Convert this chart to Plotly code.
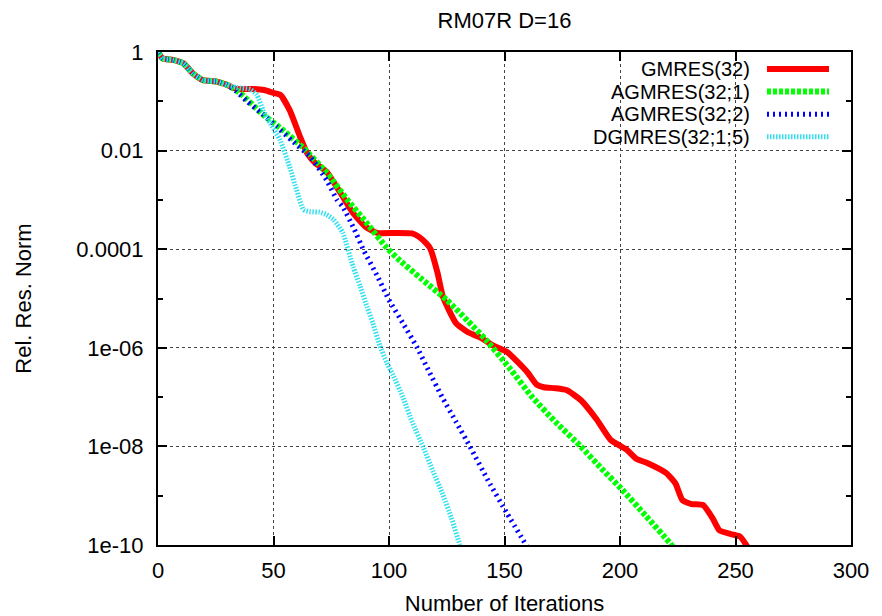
import plotly.graph_objects as go

# convergence histories (iterations, log10 of relative residual)
gmres_it = [0, 2, 6.5, 11, 15, 19.5, 25.5, 30, 34, 41, 46, 50, 53, 57, 61.5, 64.5, 68, 73, 79,
            84.5, 90, 95, 103, 110, 113, 116.5, 118, 121, 123.4, 129, 134, 139, 145, 151, 156,
            160, 164, 167, 172, 177, 183, 190, 196, 203, 207, 212, 220, 224, 227, 231, 236, 240,
            243, 248, 252, 256]
gmres_lg = [0, -0.13, -0.16, -0.23, -0.43, -0.57, -0.6, -0.67, -0.75, -0.75, -0.77, -0.83, -0.87,
            -1.18, -1.72, -2.05, -2.25, -2.43, -2.86, -3.27, -3.55, -3.67, -3.67, -3.68, -3.75,
            -3.9, -4.0, -4.48, -4.97, -5.5, -5.68, -5.78, -5.95, -6.08, -6.3, -6.5, -6.75, -6.8,
            -6.82, -6.86, -7.06, -7.46, -7.87, -8.07, -8.25, -8.34, -8.54, -8.75, -9.09, -9.17,
            -9.19, -9.45, -9.7, -9.78, -9.83, -10.1]

agm1_it = [0, 2, 6.5, 11, 15, 19.5, 25.5, 30, 35.5, 45, 54, 63, 73, 82, 90, 99, 104, 114, 125,
           134, 142, 152, 162, 172, 183, 192, 201, 211, 221.6, 223]
agm1_lg = [0, -0.13, -0.16, -0.23, -0.43, -0.57, -0.6, -0.67, -0.83, -1.25, -1.58, -1.95, -2.45,
           -3.0, -3.45, -3.97, -4.2, -4.6, -5.03, -5.45, -5.84, -6.4, -7.0, -7.5, -8.0, -8.45,
           -8.88, -9.4, -9.96, -10.05]

agm2_it = [0, 2, 6.5, 11, 15, 19.5, 25.5, 30, 34, 38.5, 45, 51.5, 58, 66, 73, 77.5, 80, 85, 89,
           95, 100, 106, 112, 117, 123, 129, 135, 143, 151, 160]
agm2_lg = [0, -0.13, -0.16, -0.23, -0.43, -0.57, -0.6, -0.67, -0.8, -1.0, -1.25, -1.52, -1.8,
           -2.13, -2.6, -3.0, -3.14, -3.6, -4.02, -4.55, -5.03, -5.5, -5.98, -6.45, -7.0, -7.5,
           -8.0, -8.7, -9.35, -10.05]

dgm_it = [0, 2, 6.5, 11, 15, 19.5, 25.5, 30, 34, 40, 42.8, 45.5, 48.5, 52.8, 57, 60, 63, 66,
          70, 73, 76, 80, 84.5, 87.5, 90.5, 93, 96, 99, 101.7, 106, 110, 114.7, 119, 123, 127,
          130.7, 131.5]
dgm_lg = [0, -0.13, -0.16, -0.23, -0.43, -0.57, -0.6, -0.67, -0.72, -0.76, -0.87, -1.18, -1.44,
          -1.78, -2.33, -2.8, -3.2, -3.24, -3.25, -3.3, -3.4, -3.67, -4.36, -4.75, -5.17, -5.5,
          -5.95, -6.3, -6.55, -7.0, -7.5, -8.0, -8.5, -8.94, -9.45, -10.0, -10.1]

series = [
    ("GMRES(32)", gmres_it, gmres_lg, "#ff0000", 6, "solid"),
    ("AGMRES(32;1)", agm1_it, agm1_lg, "#00ff00", 6, "4px,2px"),
    ("AGMRES(32;2)", agm2_it, agm2_lg, "#0000ff", 5, "2px,4px"),
    ("DGMRES(32;1;5)", dgm_it, dgm_lg, "#33e0f0", 5, "1.5px,1.5px"),
]

x_ticks = [0, 50, 100, 150, 200, 250, 300]
y_ticks = [1, 1e-2, 1e-4, 1e-6, 1e-8, 1e-10]
y_ticktext = ["1", "0.01", "0.0001", "1e-06", "1e-08", "1e-10"]
y_minor = [1e-1, 1e-3, 1e-5, 1e-7, 1e-9]

FONT = "Liberation Sans, Arial, Helvetica, sans-serif"

# page body has an 8px margin; the figure is sized so the plot box lands on the reference
W, H = 874, 608
L, R, T, B = 150, 31, 44, 71
PW, PH = W - L - R, H - T - B

fig = go.Figure()
for name, it, lg, color, width, dash in series:
    fig.add_trace(go.Scatter(
        x=it, y=[10 ** v for v in lg], mode="lines", name=name,
        line=dict(color=color, width=width, dash=dash, shape="spline", smoothing=0.5),
    ))

# gnuplot-style key: right-aligned text followed by a line sample
key_top, key_step = 69 - 8, 22.6
for i, (name, _, _, color, width, dash) in enumerate(series):
    yc = 1 - (key_top + i * key_step - T) / PH
    fig.add_annotation(x=(751 - 8 - L) / PW, y=yc, xref="paper", yref="paper",
                       text=name, showarrow=False, xanchor="right", yanchor="middle",
                       borderpad=0, font=dict(size=20, color="black"))
    fig.add_shape(type="line", xref="paper", yref="paper",
                  x0=(767 - 8 - L) / PW, x1=(829 - 8 - L) / PW, y0=yc, y1=yc,
                  line=dict(color=color, width=width, dash=dash))

axis_common = dict(
    showline=True, linecolor="black", linewidth=2, mirror="allticks",
    ticks="inside", ticklen=9, tickwidth=1.5, tickcolor="black",
    showgrid=True, gridcolor="#444", gridwidth=1, griddash="dot",
    zeroline=False, automargin=False, tickfont=dict(size=22, color="black"),
)

fig.update_xaxes(range=[0, 300], tickvals=x_ticks, ticklabelstandoff=5,
                 title=dict(text="Number of Iterations", font=dict(size=22, color="black"),
                            standoff=22),
                 **axis_common)
fig.update_yaxes(type="log", range=[-10, 0], tickvals=y_ticks, ticktext=y_ticktext,
                 ticklabelstandoff=8,
                 minor=dict(tickvals=y_minor, ticks="inside", ticklen=5, tickcolor="black",
                            showgrid=False),
                 title=dict(text="Rel. Res. Norm", font=dict(size=22, color="black"),
                            standoff=39),
                 **axis_common)

fig.update_layout(
    width=W, height=H,
    margin=dict(l=L, r=R, t=T, b=B),
    paper_bgcolor="white", plot_bgcolor="white",
    font=dict(family=FONT, size=22, color="black"),
    title=dict(text="RM07R D=16", x=(L + PW / 2) / W, xanchor="center",
               y=1 - 12 / H, yanchor="middle", font=dict(size=22, color="black")),
    showlegend=False,
)

fig.write_html("out.html")
